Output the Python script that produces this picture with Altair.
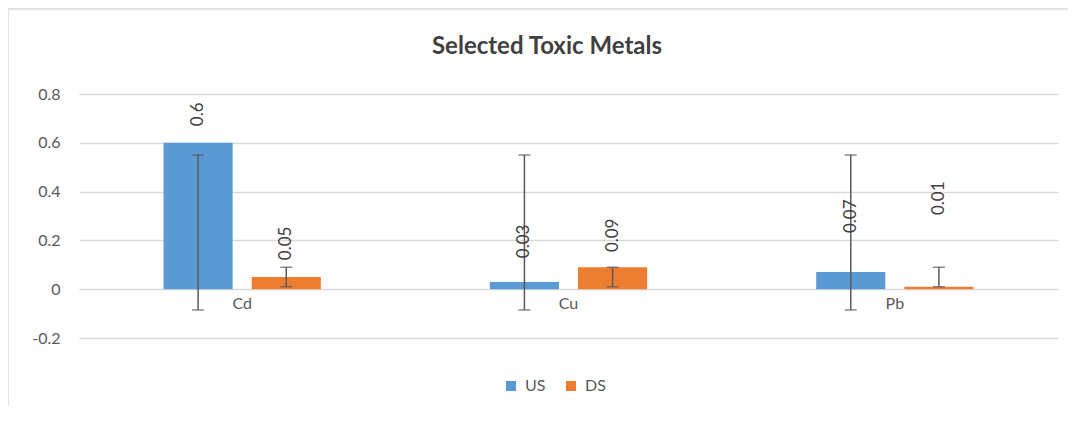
import altair as alt
import pandas as pd

title_text = ["Selected Toxic Metals"]
metals = ["Cd", "Cu", "Pb"]
series = ["US", "DS"]
us_values = [0.6, 0.03, 0.07]
ds_values = [0.05, 0.09, 0.01]
us_err_low = [-0.085, -0.085, -0.085]
us_err_high = [0.55, 0.55, 0.55]
ds_err_low = [0.01, 0.01, 0.01]
ds_err_high = [0.09, 0.09, 0.09]
us_labels = ["0.6", "0.03", "0.07"]
ds_labels = ["0.05", "0.09", "0.01"]
# where each rotated value label starts (data units)
us_label_at = [0.668, 0.127, 0.23]
ds_label_at = [0.119, 0.152, 0.304]

rows = []
for i, m in enumerate(metals):
    rows.append(dict(metal=m, series="US", value=us_values[i], low=us_err_low[i],
                     high=us_err_high[i], label=us_labels[i], label_at=us_label_at[i]))
    rows.append(dict(metal=m, series="DS", value=ds_values[i], low=ds_err_low[i],
                     high=ds_err_high[i], label=ds_labels[i], label_at=ds_label_at[i]))
df = pd.DataFrame(rows)

FONT = "Lato"
GREY = "#595959"
W, H = 979, 244

x_enc = alt.X("metal:N", sort=metals, title=None,
              scale=alt.Scale(paddingInner=0.518, paddingOuter=0.259),
              axis=alt.Axis(orient="bottom", offset=-49, domain=False, ticks=False,
                            labelAngle=0, labelFont=FONT, labelFontSize=16,
                            labelColor=GREY, labelPadding=6, grid=False))
xo_enc = alt.XOffset("series:N", sort=series,
                     scale=alt.Scale(paddingInner=0.216, paddingOuter=0))

base = alt.Chart(df)

bars = base.mark_bar().encode(
    x=x_enc,
    xOffset=xo_enc,
    y=alt.Y("value:Q", title=None,
            scale=alt.Scale(domain=[-0.2, 0.8], nice=False, zero=False),
            axis=alt.Axis(values=[-0.2, 0, 0.2, 0.4, 0.6, 0.8], domain=False, ticks=False,
                          labelFont=FONT, labelFontSize=16, labelColor=GREY,
                          labelPadding=19, gridColor="#d9d9d9", gridWidth=1.5,
                          labelExpr="datum.value == 0 ? '0' : '' + round(datum.value*10)/10")),
    color=alt.Color("series:N", sort=series,
                    scale=alt.Scale(domain=series, range=["#5B9BD5", "#ED7D31"]),
                    legend=alt.Legend(title=None, orient="none", legendX=424, legendY=284,
                                      direction="horizontal", symbolType="square",
                                      symbolSize=100, symbolStrokeWidth=0,
                                      labelFont=FONT, labelFontSize=16, labelColor=GREY,
                                      labelOffset=6, columnPadding=17, padding=0)),
)

err = base.mark_rule(color=GREY, strokeWidth=1.5).encode(
    x=alt.X("metal:N", sort=metals),
    xOffset=alt.XOffset("series:N", sort=series),
    y="low:Q",
    y2="high:Q",
)

caps = base.transform_fold(["low", "high"], as_=["end", "pos"]).mark_tick(
    color=GREY, thickness=1.5, size=12, orient="horizontal"
).encode(
    x=alt.X("metal:N", sort=metals),
    xOffset=alt.XOffset("series:N", sort=series),
    y="pos:Q",
)

labels = base.mark_text(angle=270, align="left", baseline="middle", font=FONT,
                        fontSize=17, color="#404040").encode(
    x=alt.X("metal:N", sort=metals),
    xOffset=alt.XOffset("series:N", sort=series),
    y="label_at:Q",
    text="label:N",
)

frame = alt.Chart(pd.DataFrame({"a": [0]})).mark_rect(
    fill=None, stroke="#d9d9d9", strokeWidth=1.5
).encode(
    x=alt.value(-71), x2=alt.value(1020), y=alt.value(-85), y2=alt.value(340)
)

title = alt.Chart(pd.DataFrame({"t": title_text})).mark_text(
    font=FONT, fontSize=24, fontWeight="bold", color="#404040",
    align="center", baseline="alphabetic"
).encode(x=alt.value(468), y=alt.value(-40), text="t:N")

chart = alt.layer(frame, bars, err, caps, labels, title).properties(
    width=W, height=H,
    autosize=alt.AutoSizeParams(type="none"),
    padding={"left": 71, "top": 86, "right": 10, "bottom": 68},
).configure(background="white").configure_view(stroke=None)

chart.save("out.html", embed_options={"renderer": "svg", "actions": False})
